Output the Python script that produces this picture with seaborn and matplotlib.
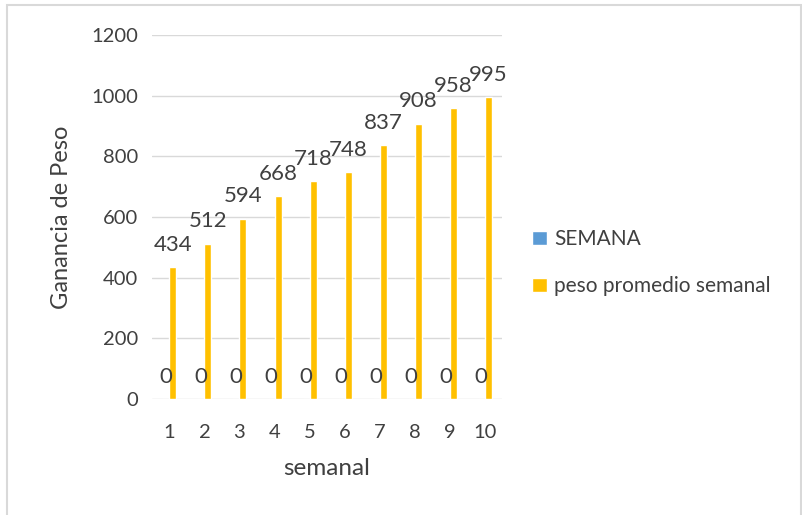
import numpy as np
import pandas as pd
import matplotlib
matplotlib.use("Agg")
import matplotlib.pyplot as plt
import seaborn as sns
from matplotlib.patches import Rectangle

# data
semanas = ["1", "2", "3", "4", "5", "6", "7", "8", "9", "10"]
semana_vals = [0, 0, 0, 0, 0, 0, 0, 0, 0, 0]
peso_vals = [434, 512, 594, 668, 718, 748, 837, 908, 958, 995]
series_names = ["SEMANA", "peso promedio semanal"]
colors = ["#5B9BD5", "#FFC000"]

sns.set_style("white")
plt.rcParams['font.family'] = ['Lato', 'DejaVu Sans']
text_color = "#404040"

df = pd.DataFrame({
    "semanal": semanas * 2,
    "valor": semana_vals + peso_vals,
    "serie": [series_names[0]] * len(semanas) + [series_names[1]] * len(semanas),
})

fig = plt.figure(figsize=(8.02, 5.15), dpi=100)
ax = fig.add_axes([0.1895, 0.2252, 0.4365, 0.7068])

sns.barplot(data=df, x="semanal", y="valor", hue="serie", palette=colors,
            saturation=1, width=0.4, gap=0, ax=ax, legend=True)

# value labels above each bar
for container in ax.containers:
    for bar in container:
        h = bar.get_height()
        ax.annotate(f"{h:.0f}", (bar.get_x() + bar.get_width() / 2, h),
                    xytext=(0, 9), textcoords="offset points",
                    ha="center", va="bottom", fontsize=16, color=text_color)

ax.set_ylim(0, 1200)
ax.set_yticks(range(0, 1201, 200))
ax.set_xlim(-0.5, 9.5)
ax.yaxis.grid(True, color="#d9d9d9", linewidth=1)
ax.set_axisbelow(True)
for s in ax.spines.values():
    s.set_visible(False)
ax.tick_params(axis="both", length=0, labelsize=14.5, colors=text_color)
ax.tick_params(axis="y", pad=10)
ax.tick_params(axis="x", pad=18)
ax.set_xlabel("semanal", fontsize=17.5, color=text_color, labelpad=12)
ax.set_ylabel("Ganancia de Peso", fontsize=17, color=text_color, labelpad=14)

handles, labels = ax.get_legend_handles_labels()
ax.get_legend().remove()
fig.legend(handles, labels, loc="center left", bbox_to_anchor=(0.64, 0.49),
           frameon=False, fontsize=15, labelcolor=text_color,
           handlelength=0.7, handleheight=0.7, handletextpad=0.35,
           labelspacing=1.3)

# light frame around the chart area
fig.patches.append(Rectangle((7 / 802, -0.02), 794 / 802, 1.02 - 5 / 515,
                             transform=fig.transFigure, fill=False,
                             edgecolor="#d9d9d9", linewidth=1.5))

fig.savefig("out.png", dpi=100)
